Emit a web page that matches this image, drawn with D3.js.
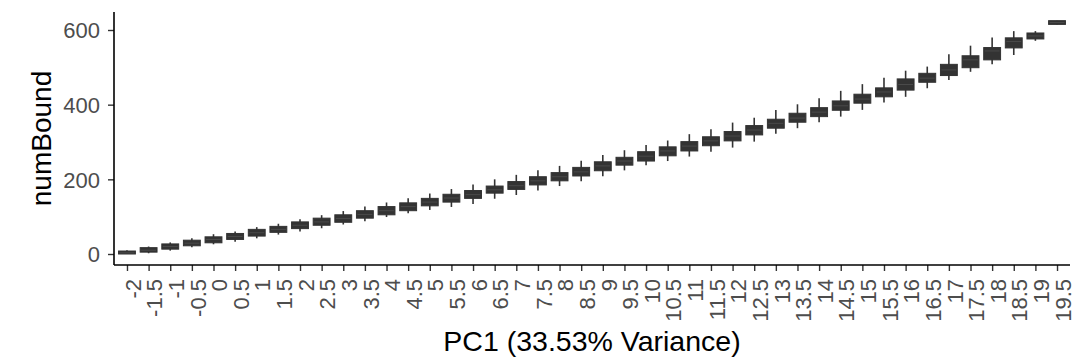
<!DOCTYPE html>
<html>
<head>
<meta charset="utf-8">
<script src="https://cdn.jsdelivr.net/npm/d3@7"></script>
<style>
  html, body { margin: 0; padding: 0; background: #fff; }
  svg { display: block; }
  text { font-family: "Liberation Sans", Arial, Helvetica, sans-serif; }
</style>
</head>
<body>
<svg id="chart" width="1076" height="360"></svg>
<script>
// ---- data ----
const categories = ["-2","-1.5","-1","-0.5","0","0.5","1","1.5","2","2.5","3","3.5","4","4.5","5","5.5","6","6.5","7","7.5","8","8.5","9","9.5","10","10.5","11","11.5","12","12.5","13","13.5","14","14.5","15","15.5","16","16.5","17","17.5","18","18.5","19","19.5"];
const whiskerLow = [0,2,9,18,26,33,42,52,60,69,79,88,99,109,118,126,134,148,158,170,182,195,208,224,238,249,261,274,285,301,322,337,353,368,386,406,421,444,466,488,508,533,571,615];
const q1Values    = [0,5,13,22,30,39,48,58,68,77,85,96,105,116,129,139,149,163,173,185,196,209,223,238,249,263,276,290,303,319,337,353,368,385,404,421,439,460,478,499,520,552,576,615];
const medianValues= [3,10,20,29,39,47,57,66,77,86,95,106,116,127,139,150,159,172,183,196,207,220,236,249,262,276,289,303,316,332,350,364,380,397,415,434,454,471,493,520,544,569,584,620];
const q3Values    = [8,17,27,37,46,55,66,74,86,96,105,116,127,137,149,160,170,182,194,207,218,232,247,259,274,287,301,314,328,344,361,377,392,410,428,445,469,484,508,531,553,579,592,625];
const whiskerHigh = [10,20,31,42,53,60,72,81,93,104,115,127,138,149,162,174,186,200,212,224,236,250,265,278,292,304,321,334,352,365,386,401,417,437,455,472,491,502,535,558,580,597,597,625];
const yTicks = [0, 200, 400, 600];
const xTitle = "PC1 (33.53% Variance)";
const yTitle = "numBound";

// ---- layout ----
const svg = d3.select("#chart");
const panel = { left: 114, right: 1070, top: 12, bottom: 265 };
const nCat = categories.length;

// discrete x positions with ggplot-like 0.6 unit expansion on each side
const unit = (panel.right - panel.left) / (nCat - 1 + 1.2);
const x = d3.scalePoint().domain(categories)
  .range([panel.left + 0.6 * unit, panel.right - 0.6 * unit]);

const y = d3.scaleLinear().domain([0, 600]).range([254, 30]);

const data = categories.map((c, i) => ({
  c, lo: whiskerLow[i], q1: q1Values[i], med: medianValues[i], q3: q3Values[i], hi: whiskerHigh[i]
}));

const boxW = unit * 0.78;
const g = svg.append("g");

// whiskers
g.selectAll("line.wh").data(data).enter().append("line")
  .attr("class", "wh")
  .attr("x1", d => x(d.c)).attr("x2", d => x(d.c))
  .attr("y1", d => y(d.hi)).attr("y2", d => y(d.lo))
  .attr("stroke", "#333333").attr("stroke-width", 1.6);

// boxes
g.selectAll("rect.box").data(data).enter().append("rect")
  .attr("class", "box")
  .attr("x", d => x(d.c) - boxW / 2)
  .attr("width", boxW)
  .attr("y", d => y(d.q3))
  .attr("height", d => Math.max(1, y(d.q1) - y(d.q3)))
  .attr("fill", "#333333")
  .attr("stroke", "#333333").attr("stroke-width", 1);

// medians
g.selectAll("line.med").data(data).enter().append("line")
  .attr("class", "med")
  .attr("x1", d => x(d.c) - boxW / 2 + 1).attr("x2", d => x(d.c) + boxW / 2 - 1)
  .attr("y1", d => y(d.med)).attr("y2", d => y(d.med))
  .attr("stroke", "#4a4a4a").attr("stroke-width", 1);

// ---- axes ----
const yAxis = d3.axisLeft(y).tickValues(yTicks).tickSize(6).tickPadding(8);
const gy = svg.append("g").attr("transform", `translate(${panel.left},0)`).call(yAxis);
gy.select(".domain").remove();
gy.selectAll(".tick line").attr("stroke", "#333333").attr("stroke-width", 1.4);
gy.selectAll(".tick text").attr("fill", "#4d4d4d").attr("font-size", 22).attr("dy", "0.36em");

const xAxis = d3.axisBottom(x).tickSize(6).tickPadding(6);
const gx = svg.append("g").attr("transform", `translate(0,${panel.bottom})`).call(xAxis);
gx.select(".domain").remove();
gx.selectAll(".tick line").attr("stroke", "#333333").attr("stroke-width", 1.4);
gx.selectAll(".tick text")
  .attr("fill", "#4d4d4d").attr("font-size", 22)
  .attr("text-anchor", "end")
  .attr("transform", "rotate(-90)")
  .attr("x", -14).attr("y", 0).attr("dy", "0.6em");

// axis lines
svg.append("line").attr("x1", panel.left).attr("x2", panel.left)
  .attr("y1", panel.top).attr("y2", panel.bottom)
  .attr("stroke", "#000").attr("stroke-width", 1.6);
svg.append("line").attr("x1", panel.left).attr("x2", panel.right)
  .attr("y1", panel.bottom).attr("y2", panel.bottom)
  .attr("stroke", "#000").attr("stroke-width", 1.6);

// titles
svg.append("text").text(xTitle)
  .attr("x", (panel.left + panel.right) / 2).attr("y", 351)
  .attr("text-anchor", "middle").attr("font-size", 28.5).attr("fill", "#000");
svg.append("text").text(yTitle)
  .attr("transform", `translate(51,${(panel.top + panel.bottom) / 2}) rotate(-90)`)
  .attr("text-anchor", "middle").attr("font-size", 28).attr("fill", "#000");
</script>
</body>
</html>
